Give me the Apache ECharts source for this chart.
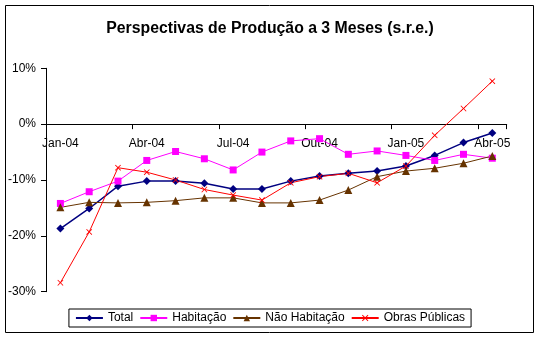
<!DOCTYPE html>
<html><head><meta charset="utf-8">
<script src="https://cdn.jsdelivr.net/npm/echarts@6/dist/echarts.min.js"></script>
<style>html,body{margin:0;padding:0;background:#fff}#c{width:540px;height:340px}</style>
</head><body><div id="c"></div>
<script>
const categories = ['Jan-04','Fev-04','Mar-04','Abr-04','Mai-04','Jun-04','Jul-04','Ago-04','Set-04','Out-04','Nov-04','Dez-04','Jan-05','Fev-05','Mar-05','Abr-05'];
const total = [-18.7,-15.1,-11.1,-10.2,-10.2,-10.6,-11.6,-11.6,-10.2,-9.3,-8.8,-8.4,-7.5,-5.6,-3.3,-1.6];
const habitacao = [-14.2,-12.1,-10.2,-6.5,-4.9,-6.2,-8.2,-5.0,-3.0,-2.6,-5.4,-4.8,-5.6,-6.5,-5.4,-6.1];
const naoHabitacao = [-14.9,-14.0,-14.1,-14.0,-13.7,-13.2,-13.2,-14.1,-14.1,-13.6,-11.8,-9.4,-8.4,-7.9,-7.0,-5.7];
const obrasPublicas = [-28.4,-19.3,-7.8,-8.6,-10.0,-11.7,-12.7,-13.6,-10.5,-9.4,-8.8,-10.5,-7.5,-2.0,2.8,7.7];
const seriesNames = ['Total','Habitação','Não Habitação','Obras Públicas'];
const yTicks = {min:-30, max:10, interval:10};

const FONT = '"Liberation Sans", Arial, sans-serif';
const xSym = 'path://M0,1L1,0L5,4L9,0L10,1L6,5L10,9L9,10L5,6L1,10L0,9L4,5Z';
const gridTop = 68.3, gridBottom = 48.3, H = 340;
const plotH = H - gridTop - gridBottom;
const zeroOffset = -plotH * (0 - yTicks.min) / (yTicks.max - yTicks.min);
const chart = echarts.init(document.getElementById('c'), null, {renderer:'canvas'});
function s(name, data, color, symbol, size, width){
  return {name, type:'line', data, symbol, symbolSize:size, showSymbol:true,
    lineStyle:{color, width}, itemStyle:{color}, animation:false, emphasis:{disabled:true}};
}
chart.setOption({
  animation:false,
  textStyle:{fontFamily:FONT},
  title:{text:'Perspectivas de Produção a 3 Meses (s.r.e.)', left:'center', top:16,
    textStyle:{fontFamily:FONT, fontSize:15.8, fontWeight:'bold', color:'#000'}},
  graphic:[{type:'rect', shape:{x:5.5,y:5.5,width:528,height:327}, style:{fill:'none', stroke:'#000', lineWidth:1}, silent:true}],
  grid:{left:46, right:33.3, top:gridTop, bottom:gridBottom, containLabel:false},
  legend:{data:seriesNames, left:'center', top:309, orient:'horizontal',
    borderColor:'#000', borderWidth:1, padding:[3,6,3,6], itemGap:6, itemWidth:27, itemHeight:8,
    textStyle:{fontFamily:FONT, fontSize:12, color:'#000'}},
  xAxis:{type:'category', data:categories, boundaryGap:true, position:'bottom', offset:zeroOffset,
    axisLine:{onZero:false, lineStyle:{color:'#000', width:1}},
    axisTick:{show:true, interval:2, length:5, lineStyle:{color:'#000'}},
    axisLabel:{interval:2, color:'#000', fontSize:12, fontFamily:FONT, margin:14},
    splitLine:{show:false}},
  yAxis:{type:'value', min:yTicks.min, max:yTicks.max, interval:yTicks.interval,
    axisLine:{show:true, lineStyle:{color:'#000', width:1}},
    axisTick:{show:true, length:5, lineStyle:{color:'#000'}},
    axisLabel:{formatter:v=>v+'%', color:'#000', fontSize:12, fontFamily:FONT, margin:10},
    splitLine:{show:false}},
  series:[
    s(seriesNames[0], total, '#000080', 'diamond', 8, 1.5),
    s(seriesNames[1], habitacao, '#FF00FF', 'rect', 7, 1),
    s(seriesNames[2], naoHabitacao, '#663300', 'triangle', 8, 1),
    s(seriesNames[3], obrasPublicas, '#FF0000', xSym, 6, 1)
  ]
});
</script></body></html>
